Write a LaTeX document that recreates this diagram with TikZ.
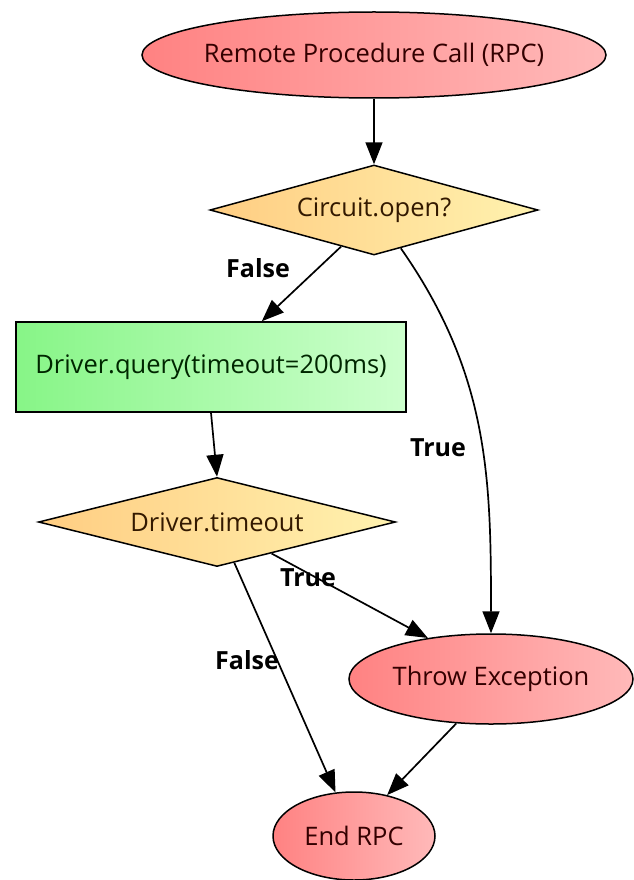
\documentclass[tikz,border=0pt]{standalone}
\usepackage{fontspec}
\setmainfont{Open Sans}
\usetikzlibrary{shapes.geometric,arrows.meta}
\definecolor{redleft}{RGB}{255,130,130}
\definecolor{redright}{RGB}{255,185,185}
\definecolor{goldleft}{RGB}{255,205,130}
\definecolor{goldright}{RGB}{255,242,175}
\definecolor{greenleft}{RGB}{135,245,135}
\definecolor{greenright}{RGB}{205,255,205}
\tikzset{
    terminal/.style ={
        shape=ellipse,
        draw=black,
        line width=1.5pt,
        left color=redleft,
        right color=redright,
        text=red!20!black,
        inner xsep=-10pt,
        inner ysep=0pt,
        font=\fontsize{25.5pt}{30pt}\selectfont
    },
    decision/.style ={
        shape=diamond,
        aspect=4,
        draw=black,
        line width=1.5pt,
        left color=goldleft,
        right color=goldright,
        text=orange!20!black,
        inner sep=0pt,
        font=\fontsize{25.5pt}{30pt}\selectfont
    },
    process/.style ={
        shape=rectangle,
        draw=black,
        line width=1.5pt,
        left color=greenleft,
        right color=greenright,
        text=green!15!black,
        inner sep=0pt,
        font=\fontsize{25.5pt}{30pt}\selectfont
    },
    flow/.style ={
        line width=1.7pt,
        -{Triangle[length=22pt,width=17pt]}
    },
    answer/.style ={
        font=\bfseries\fontsize{25pt}{30pt}\selectfont
    }
}

\begin{document}
\begin{tikzpicture}[x=1pt,y=1pt]
    \useasboundingbox (0,0) rectangle (633,-880);
    \node[terminal,minimum width=464pt,minimum height=86pt] (rpc) at(374,-55) {Remote Procedure Call (RPC)};
    \node[decision,minimum width=328pt,minimum height=90pt] (circuit) at(374,-210) {Circuit.open?};
    \node[process,minimum width=390pt,minimum height=90pt] (query) at(211,-367) {Driver.query(timeout=200ms)};
    \node[decision,minimum width=357pt,minimum height=89pt] (timeout) at(217,-522) {Driver.timeout};
    \node[terminal,minimum width=284pt,minimum height=90pt] (throw) at(491,-679) {Throw Exception};
    \node[terminal,minimum width=162pt,minimum height=88pt] (end) at(354,-836) {End RPC};
    % answers on the edges
    \node[answer] (f1) at(258,-268) {False};
    \node[answer] (t1) at(438,-448) {True};
    \node[answer] (t2) at(308,-578) {True};
    \node[answer] (f2) at(247,-660) {False};
    % edges
    \draw[flow] (rpc) -- (circuit);
    \draw[flow] (circuit.228) -- (query.42);
    \draw[flow] (circuit.305) to[out=-55,in=90] (throw.north);
    \draw[flow] (query.south) -- (timeout.north);
    \draw[flow] (timeout.-30) -- (throw.147);
    \draw[flow] (timeout.-67) -- (end.113);
    \draw[flow] (throw.232) -- (end.51);
\end{tikzpicture}
\end{document}
